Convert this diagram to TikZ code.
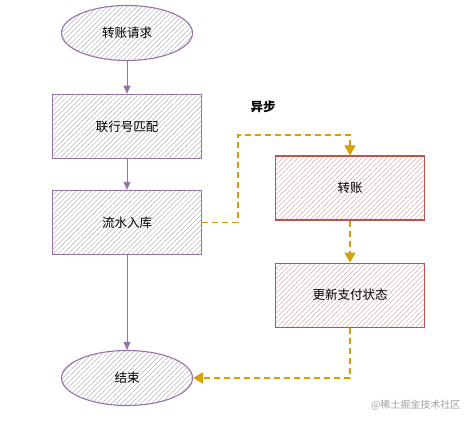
\documentclass[tikz,border=0pt]{standalone}
\usepackage{fontspec}
\newfontfamily\cjk{Noto Sans CJK SC}
\usetikzlibrary{shapes.geometric,arrows.meta,positioning,patterns.meta}
\definecolor{flowPurple}{RGB}{150,115,166}
\definecolor{flowRed}{RGB}{184,84,80}
\definecolor{flowGold}{RGB}{214,160,0}
\definecolor{hatchGray}{RGB}{180,180,186}
\definecolor{hatchRed}{RGB}{210,176,176}
\definecolor{markGray}{RGB}{160,160,160}

\begin{document}
\begin{tikzpicture}[
  x=1pt, y=1pt,
  hatch/.style={pattern={Lines[angle=45,distance=3.5pt,line width=0.5pt]},
                pattern color=#1},
  term/.style={ellipse, draw=flowPurple, line width=1.1pt, hatch=hatchGray,
               minimum width=131pt, minimum height=55pt,
               font=\cjk\fontsize{12.5}{14}\selectfont},
  proc/.style={rectangle, draw=#1, line width=1.1pt, minimum width=149pt,
               minimum height=64pt, font=\cjk\fontsize{12.5}{14}\selectfont},
  arr/.style={-{Triangle[width=7pt,length=8pt]}, thick, flowPurple},
  async/.style={-{Triangle[width=11pt,length=10pt]}, flowGold,
                line width=1.7pt, dash pattern=on 6pt off 4pt}
]
  \useasboundingbox (0,0) rectangle (473,421);

  \node[term] (start) at (127,388) {转账请求};
  \node[proc=flowPurple, hatch=hatchGray, below=33pt of start] (match)
    {联行号匹配};
  \node[proc=flowPurple, hatch=hatchGray, below=31pt of match] (store)
    {流水入库};
  \node[term, below=95pt of store] (finish) {结束};

  \node[proc=flowRed, hatch=hatchRed] (transfer) at (350,233) {转账};
  \node[proc=flowRed, hatch=hatchRed, below=42pt of transfer] (update)
    {更新支付状态};

  \node[font=\cjk\bfseries\fontsize{12.5}{14}\selectfont] (asynclabel)
    at (263,314) {异步};
  \node[font=\cjk\fontsize{10}{12}\selectfont, text=markGray,
        anchor=east] (mark) at (464,16) {@稀土掘金技术社区};

  \coordinate (fork) at (238,286);

  \foreach \a/\b in {start/match,match/store,store/finish}
    \draw[arr] (\a.south) -- (\b.north);

  \draw[async] (store.east) -- (store.east -| fork) -- (fork)
    -| (transfer.north);
  \draw[async] (transfer.south) -- (update.north);
  \draw[async] (update.south) |- (finish.east);
\end{tikzpicture}
\end{document}
